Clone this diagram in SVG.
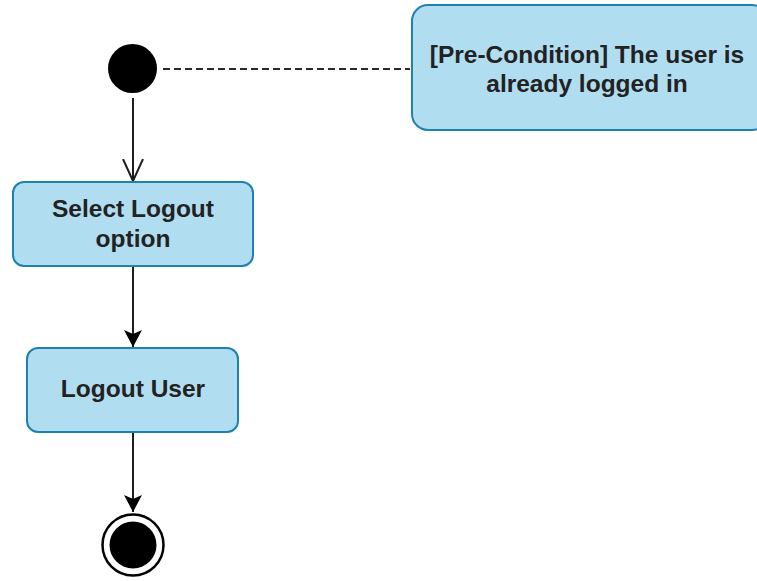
<svg xmlns="http://www.w3.org/2000/svg" width="757" height="581" viewBox="0 0 757 581">
  <style>
    .action { fill: #b1ddf0; stroke: #1f80b2; stroke-width: 2; }
    .label { font-family: "Liberation Sans", Arial, sans-serif; font-size: 24.5px; font-weight: bold; fill: #222222; text-anchor: middle; }
    .flow { fill: none; stroke: #1e1e1e; stroke-width: 2; }
    .anchor { fill: none; stroke: #2a2a2a; stroke-width: 2; stroke-dasharray: 7 4; }
  </style>
  <defs>
    <marker id="open" markerUnits="userSpaceOnUse" markerWidth="24" markerHeight="26" refX="22" refY="11" orient="auto" viewBox="0 0 24 22">
      <path d="M0,1 L22,11 L0,21" fill="none" stroke="#1e1e1e" stroke-width="2"/>
    </marker>
    <marker id="filled" markerUnits="userSpaceOnUse" markerWidth="18" markerHeight="18" refX="17" refY="9" orient="auto" viewBox="0 0 18 18">
      <path d="M0,0 L17,9 L0,18 L4,9 Z" fill="#000000"/>
    </marker>
  </defs>

  <rect width="757" height="581" fill="#ffffff"/>

  <!-- connectors -->
  <g id="connectors">
    <line class="anchor" x1="163" y1="69" x2="410" y2="69"/>
    <line class="flow" x1="133" y1="98" x2="133" y2="181" marker-end="url(#open)"/>
    <line class="flow" x1="133" y1="266" x2="133" y2="347" marker-end="url(#filled)"/>
    <line class="flow" x1="133" y1="432" x2="133" y2="512" marker-end="url(#filled)"/>
  </g>

  <!-- start -->
  <g id="initial">
    <circle cx="132.5" cy="68.5" r="24.5" fill="#000000"/>
  </g>

  <!-- pre-condition note -->
  <g id="precondition">
    <rect class="action" x="412" y="5" width="356" height="125" rx="16" ry="16"/>
    <text class="label" x="587" y="63">[Pre-Condition] The user is</text>
    <text class="label" x="587" y="92">already logged in</text>
  </g>

  <g id="select-logout">
    <rect class="action" x="13" y="182" width="240" height="84" rx="11" ry="11"/>
    <text class="label" x="133" y="217">Select Logout</text>
    <text class="label" x="133" y="247">option</text>
  </g>

  <g id="logout-user">
    <rect class="action" x="27" y="348" width="211" height="84" rx="11" ry="11"/>
    <text class="label" x="133" y="397">Logout User</text>
  </g>

  <!-- end -->
  <g id="final">
    <circle cx="133" cy="545" r="30.5" fill="#ffffff" stroke="#000000" stroke-width="2.5"/>
    <circle cx="133" cy="545" r="23.5" fill="#000000"/>
  </g>
</svg>
